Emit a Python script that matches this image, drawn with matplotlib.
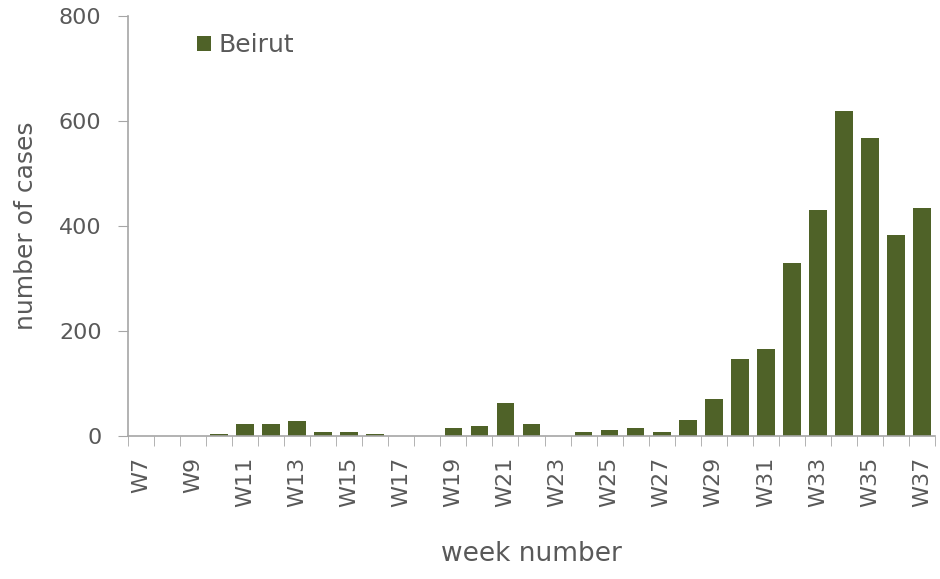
import matplotlib.pyplot as plt
import numpy as np

weeks = [f"W{w}" for w in range(7, 38)]
cases = [0, 0, 0, 3, 22, 22, 28, 8, 8, 3, 0, 0, 15, 20, 62, 22,
         0, 8, 12, 16, 8, 30, 70, 147, 165, 330, 430, 619, 568, 383, 434]

bar_color = "#4f6228"
axis_color = "#a6a6a6"
text_color = "#595959"

fig = plt.figure(figsize=(9.4, 5.79), dpi=100)
ax = fig.add_axes([128 / 940, 143 / 579, 807 / 940, 420 / 579])

x = np.arange(len(weeks))
ax.bar(x, cases, width=0.68, color=bar_color, label="Beirut", zorder=2)

ax.set_xlim(-0.5, len(weeks) - 0.5)
ax.set_ylim(0, 800)
ax.set_yticks([0, 200, 400, 600, 800])

# labels on every other week, ticks between categories
ax.set_xticks(x[::2])
ax.set_xticklabels(weeks[::2], rotation=90, fontsize=16, color=text_color)
ax.set_xticks(np.arange(-0.5, len(weeks), 1.0), minor=True)
ax.tick_params(axis="x", which="major", length=0, pad=15)
ax.tick_params(axis="x", which="minor", length=7, color=axis_color)
ax.tick_params(axis="y", length=7, color=axis_color, labelsize=16,
               labelcolor=text_color, pad=12)

for side in ["top", "right"]:
    ax.spines[side].set_visible(False)
for side in ["left", "bottom"]:
    ax.spines[side].set_color(axis_color)
    ax.spines[side].set_linewidth(1.2)

ax.set_ylabel("number of cases", fontsize=18, color=text_color)
ax.yaxis.set_label_coords(-0.112, 0.5)
ax.set_xlabel("week number", fontsize=19, color=text_color)
ax.xaxis.set_label_coords(0.5, -0.25)

leg = ax.legend(loc="center left", bbox_to_anchor=(0.0855, 0.931),
                frameon=False, fontsize=18, handlelength=0.55,
                handleheight=0.55, handletextpad=0.3, borderpad=0,
                borderaxespad=0)
for t in leg.get_texts():
    t.set_color(text_color)

fig.savefig("out.png", dpi=100)
